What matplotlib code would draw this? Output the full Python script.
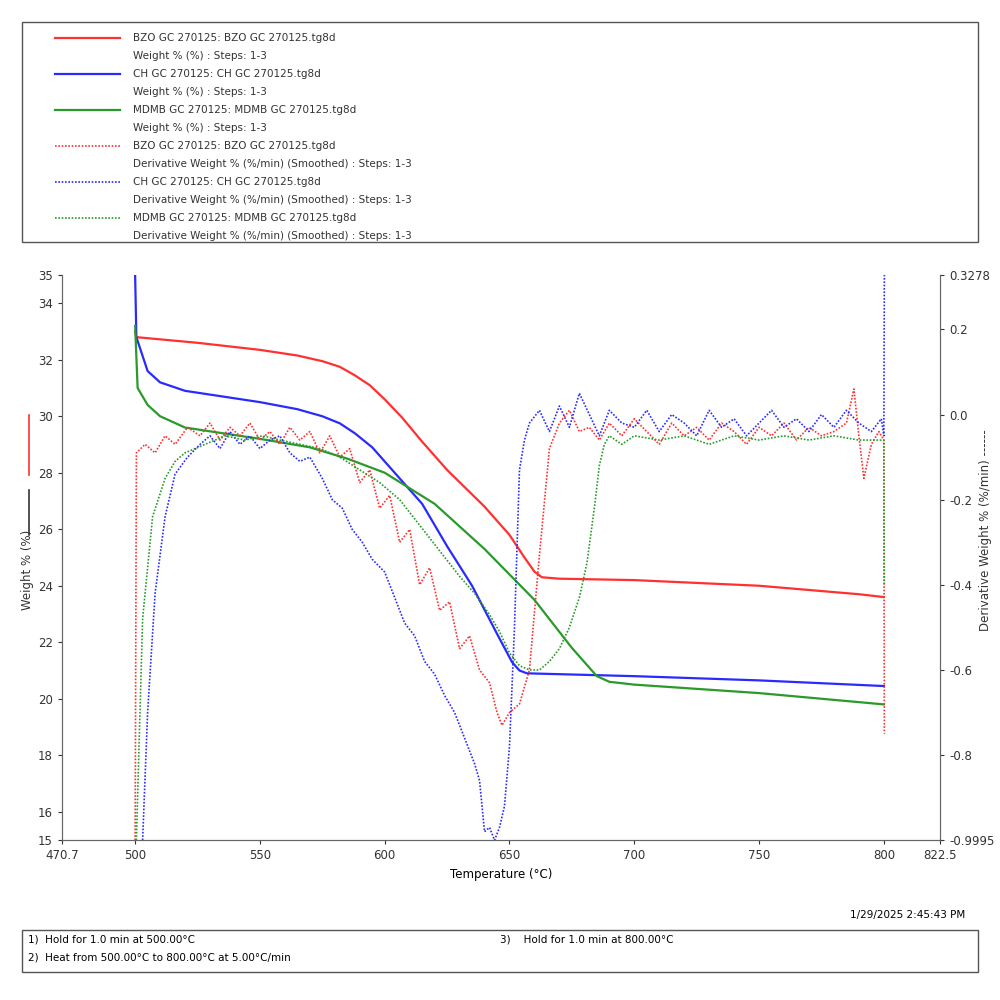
import numpy as np
import matplotlib
matplotlib.use('Agg')
import matplotlib.pyplot as plt
from matplotlib.lines import Line2D

# weight curves (Temperature, Weight %)
red_T = [500, 500.5, 525, 550, 565, 575, 582, 588, 594, 600, 607, 615, 625, 640, 650, 656, 660, 663, 670, 700, 750, 790, 800]
red_W = [33.0, 32.8, 32.6, 32.35, 32.15, 31.95, 31.75, 31.45, 31.1, 30.6, 29.95, 29.1, 28.1, 26.8, 25.8, 25.0, 24.5, 24.3, 24.25, 24.2, 24.0, 23.7, 23.6]
blue_T = [500, 500.5, 505, 510, 520, 550, 565, 575, 582, 588, 595, 605, 615, 625, 635, 645, 651, 654, 657, 700, 750, 800]
blue_W = [35.0, 32.8, 31.6, 31.2, 30.9, 30.5, 30.25, 30.0, 29.75, 29.4, 28.9, 27.9, 26.9, 25.4, 24.0, 22.3, 21.3, 21.0, 20.9, 20.8, 20.65, 20.45]
green_T = [500, 501, 505, 510, 520, 550, 570, 585, 600, 620, 640, 660, 675, 685, 690, 700, 750, 800]
green_W = [33.2, 31.0, 30.4, 30.0, 29.6, 29.2, 28.9, 28.5, 28.0, 26.9, 25.3, 23.5, 21.8, 20.8, 20.6, 20.5, 20.2, 19.8]

# derivative curves (Temperature, %/min)
dred_T = [500, 500.5, 504, 508, 512, 516, 521, 526, 530, 534, 538, 542, 546, 550, 554, 558, 562, 566, 570, 574, 578,
          582, 586, 590, 594, 598, 602, 606, 610, 614, 618, 622, 626, 630, 634, 638, 642, 645, 647, 650, 654, 658, 662,
          666, 670, 674, 678, 682, 686, 690, 695, 700, 705, 710, 715, 720, 725, 730, 735, 740, 745, 750, 755, 760, 765,
          770, 775, 780, 785, 788, 790, 792, 795, 798, 800, 800.2]
dred_D = [-1.0, -0.09, -0.07, -0.09, -0.05, -0.07, -0.03, -0.05, -0.02, -0.06, -0.03, -0.05, -0.02, -0.06, -0.04, -0.07,
          -0.03, -0.06, -0.04, -0.09, -0.05, -0.10, -0.08, -0.16, -0.13, -0.22, -0.19, -0.30, -0.27, -0.40, -0.36, -0.46,
          -0.44, -0.55, -0.52, -0.60, -0.63, -0.70, -0.73, -0.70, -0.68, -0.60, -0.33, -0.08, -0.02, 0.01, -0.04, -0.03,
          -0.06, -0.02, -0.05, -0.01, -0.04, -0.07, -0.02, -0.05, -0.03, -0.06, -0.02, -0.04, -0.07, -0.03, -0.05, -0.02,
          -0.06, -0.03, -0.05, -0.04, -0.02, 0.06, -0.05, -0.15, -0.07, -0.04, -0.06, -0.75]
dblue_T = [503, 505, 508, 512, 516, 521, 526, 530, 534, 538, 542, 546, 550, 554, 558, 562, 566, 570, 575, 579, 583, 587,
           591, 595, 600, 604, 608, 612, 616, 620, 624, 628, 632, 636, 638, 640, 642, 644, 646, 648, 650, 652, 654, 656,
           658, 662, 666, 670, 674, 678, 682, 686, 690, 695, 700, 705, 710, 715, 720, 725, 730, 735, 740, 745, 750, 755,
           760, 765, 770, 775, 780, 785, 790, 795, 799, 800, 800.2]
dblue_D = [-1.0, -0.70, -0.42, -0.24, -0.14, -0.10, -0.07, -0.05, -0.08, -0.04, -0.07, -0.05, -0.08, -0.06, -0.05, -0.09,
           -0.11, -0.10, -0.15, -0.20, -0.22, -0.27, -0.30, -0.34, -0.37, -0.43, -0.49, -0.52, -0.58, -0.61, -0.66, -0.70,
           -0.76, -0.82, -0.86, -0.98, -0.97, -1.0, -0.97, -0.92, -0.78, -0.50, -0.13, -0.06, -0.02, 0.01, -0.04, 0.02,
           -0.03, 0.05, 0.0, -0.05, 0.01, -0.02, -0.03, 0.01, -0.04, 0.0, -0.02, -0.05, 0.01, -0.03, -0.01, -0.05, -0.02,
           0.01, -0.03, -0.01, -0.04, 0.0, -0.03, 0.01, -0.02, -0.04, -0.01, -0.05, 0.33]
dgreen_T = [500.5, 503, 507, 512, 516, 520, 528, 536, 544, 551, 558, 566, 574, 582, 590, 598, 606, 614, 622, 630, 636,
            642, 646, 650, 654, 658, 662, 666, 670, 674, 678, 681, 684, 686, 688, 690, 695, 700, 710, 720, 730, 740, 750,
            760, 770, 780, 790, 800, 800.2]
dgreen_D = [-1.0, -0.48, -0.24, -0.15, -0.11, -0.09, -0.07, -0.05, -0.06, -0.05, -0.06, -0.07, -0.08, -0.10, -0.13,
            -0.16, -0.20, -0.26, -0.32, -0.38, -0.42, -0.47, -0.51, -0.56, -0.59, -0.60, -0.60, -0.58, -0.55, -0.50,
            -0.43, -0.35, -0.22, -0.12, -0.07, -0.05, -0.07, -0.05, -0.06, -0.05, -0.07, -0.05, -0.06, -0.05, -0.06,
            -0.05, -0.06, -0.06, -0.40]

RED, BLUE, GREEN = '#ff3030', '#2a2aff', '#2a9a2a'

fig = plt.figure(figsize=(10, 10), dpi=100)
ax = fig.add_axes([0.062, 0.16, 0.878, 0.565])
ax2 = ax.twinx()

ax.plot(red_T, red_W, color=RED, lw=1.6)
ax.plot(blue_T, blue_W, color=BLUE, lw=1.6)
ax.plot(green_T, green_W, color=GREEN, lw=1.6)
ax2.plot(dred_T, dred_D, color=RED, lw=1.2, ls=(0, (1, 1)))
ax2.plot(dblue_T, dblue_D, color=BLUE, lw=1.2, ls=(0, (1, 1)))
ax2.plot(dgreen_T, dgreen_D, color=GREEN, lw=1.2, ls=(0, (1, 1)))

ax.set_xlim(470.7, 822.5)
ax.set_ylim(15, 35)
ax2.set_ylim(-0.9995, 0.3278)
ax.set_xticks([470.7, 500, 550, 600, 650, 700, 750, 800, 822.5])
ax.set_xticklabels(['470.7', '500', '550', '600', '650', '700', '750', '800', '822.5'])
ax.set_yticks([15, 16, 18, 20, 22, 24, 26, 28, 30, 32, 34, 35])
ax2.set_yticks([0.3278, 0.2, 0.0, -0.2, -0.4, -0.6, -0.8, -0.9995])
ax2.set_yticklabels(['0.3278', '0.2', '0.0', '-0.2', '-0.4', '-0.6', '-0.8', '-0.9995'])
for a in (ax, ax2):
    a.tick_params(labelsize=8.5, colors='#333333', length=3)
    a.spines['top'].set_visible(False)
    a.spines['left'].set_color('#666666')
    a.spines['right'].set_color('#666666')
    a.spines['bottom'].set_color('#666666')
ax.set_xlabel('Temperature (°C)', fontsize=8.5)

# right y label
fig.text(0.985, 0.47, 'Derivative Weight % (%/min) ------', rotation=90, fontsize=8.5,
         ha='center', va='center', color='#333333')

# left y label with line markers
fig.text(0.028, 0.43, 'Weight % (%)', rotation=90, fontsize=8.5, ha='center', va='center', color='#333333')
fig.add_artist(Line2D([0.029, 0.029], [0.51, 0.465], color='#333333', lw=1.2))
fig.add_artist(Line2D([0.029, 0.029], [0.585, 0.525], color=RED, lw=1.2))

# legend box
fig.add_artist(plt.Rectangle((0.022, 0.758), 0.956, 0.22, fill=False, ec='#555555', lw=1.0))
entries = [
    (RED, '-', 'BZO GC 270125: BZO GC 270125.tg8d', 'Weight % (%) : Steps: 1-3'),
    (BLUE, '-', 'CH GC 270125: CH GC 270125.tg8d', 'Weight % (%) : Steps: 1-3'),
    (GREEN, '-', 'MDMB GC 270125: MDMB GC 270125.tg8d', 'Weight % (%) : Steps: 1-3'),
    (RED, ':', 'BZO GC 270125: BZO GC 270125.tg8d', 'Derivative Weight % (%/min) (Smoothed) : Steps: 1-3'),
    (BLUE, ':', 'CH GC 270125: CH GC 270125.tg8d', 'Derivative Weight % (%/min) (Smoothed) : Steps: 1-3'),
    (GREEN, ':', 'MDMB GC 270125: MDMB GC 270125.tg8d', 'Derivative Weight % (%/min) (Smoothed) : Steps: 1-3'),
]
for i, (c, ls, l1, l2) in enumerate(entries):
    y = 1 - (38 + 36 * i) / 1000
    fig.add_artist(Line2D([0.055, 0.12], [y, y], color=c, lw=1.6 if ls == '-' else 1.2,
                          ls='-' if ls == '-' else (0, (1, 1))))
    fig.text(0.133, y, l1, fontsize=7.5, va='center', color='#333333')
    fig.text(0.133, y - 0.018, l2, fontsize=7.5, va='center', color='#333333')

fig.text(0.965, 0.085, '1/29/2025 2:45:43 PM', fontsize=7.5, ha='right', va='center')
fig.add_artist(plt.Rectangle((0.022, 0.028), 0.956, 0.042, fill=False, ec='#555555', lw=1.0))
fig.text(0.028, 0.06, '1)  Hold for 1.0 min at 500.00°C', fontsize=7.5, va='center')
fig.text(0.028, 0.042, '2)  Heat from 500.00°C to 800.00°C at 5.00°C/min', fontsize=7.5, va='center')
fig.text(0.5, 0.06, '3)    Hold for 1.0 min at 800.00°C', fontsize=7.5, va='center')

fig.savefig('out.png', dpi=100)
